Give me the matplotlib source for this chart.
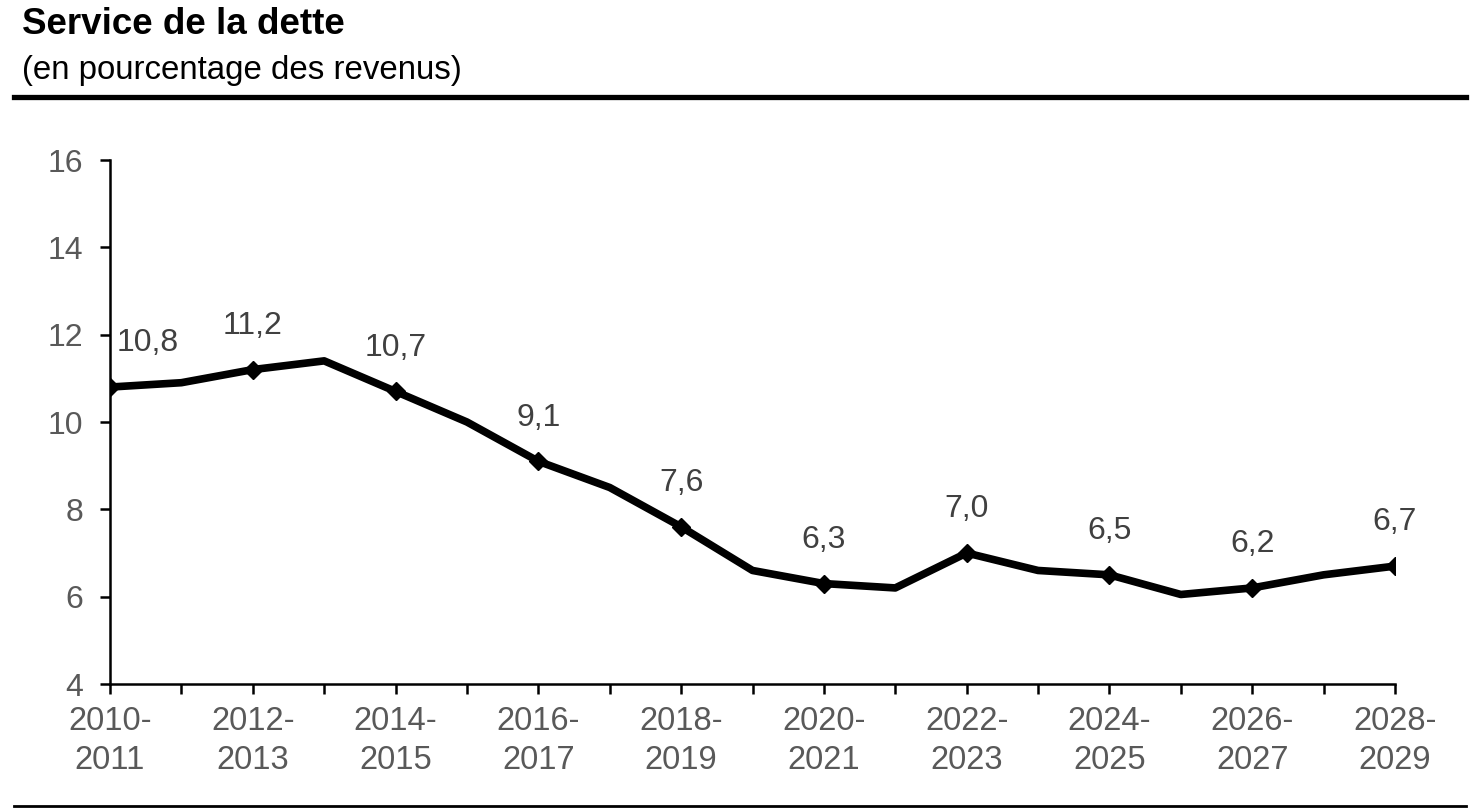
import matplotlib
matplotlib.use("Agg")
import matplotlib.pyplot as plt
from matplotlib.lines import Line2D

plt.rcParams["font.family"] = ["Liberation Sans", "DejaVu Sans"]

# -----------------------------
# Data
# -----------------------------
years = ["2010-\n2011", "2011-\n2012", "2012-\n2013", "2013-\n2014", "2014-\n2015",
         "2015-\n2016", "2016-\n2017", "2017-\n2018", "2018-\n2019", "2019-\n2020",
         "2020-\n2021", "2021-\n2022", "2022-\n2023", "2023-\n2024", "2024-\n2025",
         "2025-\n2026", "2026-\n2027", "2027-\n2028", "2028-\n2029"]
debt_service = [10.8, 10.9, 11.2, 11.4, 10.7, 10.0, 9.1, 8.5, 7.6, 6.6,
                6.3, 6.2, 7.0, 6.6, 6.5, 6.05, 6.2, 6.5, 6.7]
labelled = [0, 2, 4, 6, 8, 10, 12, 14, 16, 18]
label_text = ["10,8", "11,2", "10,7", "9,1", "7,6", "6,3", "7,0", "6,5", "6,2", "6,7"]
y_ticks = [4, 6, 8, 10, 12, 14, 16]

# -----------------------------
# Figure
# -----------------------------
fig = plt.figure(figsize=(14.8, 8.1), dpi=100)
ax = fig.add_axes([110 / 1480, 1 - 684 / 810, (1395 - 110) / 1480, (684 - 160) / 810])

x = list(range(len(years)))
ax.plot(x, debt_service, color="black", lw=5.5, solid_joinstyle="round", zorder=3)
ax.plot([x[i] for i in labelled], [debt_service[i] for i in labelled],
        ls="none", marker="D", ms=9, color="black", zorder=4)

for i, txt in zip(labelled, label_text):
    dx = 27 if i == 0 else 0
    ax.annotate(txt, (x[i], debt_service[i]), xytext=(dx, 31.5),
                textcoords="offset points", ha="center", va="center",
                fontsize=23, color="#404040")

ax.set_xlim(0, 18)
ax.set_ylim(4, 16)
ax.set_yticks(y_ticks)
ax.set_xticks(x)
ax.set_xticklabels([lab if i % 2 == 0 else "" for i, lab in enumerate(years)])
ax.tick_params(axis="both", direction="out", length=7, width=1.8,
               labelsize=23, labelcolor="#595959", color="black")
ax.tick_params(axis="x", pad=8.5, labelsize=23.5)
ax.tick_params(axis="y", pad=12)
for lab in ax.get_xticklabels():
    lab.set_linespacing(1.36)

for s in ["top", "right"]:
    ax.spines[s].set_visible(False)
for s in ["left", "bottom"]:
    ax.spines[s].set_linewidth(1.8)

# titles and rules
fig.text(22 / 1480, 1 - 25 / 810, "Service de la dette", fontsize=26.5,
         fontweight="bold", va="center", ha="left")
fig.text(22 / 1480, 1 - 70 / 810, "(en pourcentage des revenus)", fontsize=23.8,
         va="center", ha="left")
fig.add_artist(Line2D([14 / 1480, 1466 / 1480], [1 - 97 / 810] * 2,
                      color="black", lw=3.8, transform=fig.transFigure))
fig.add_artist(Line2D([14 / 1480, 1466 / 1480], [1 - 806 / 810] * 2,
                      color="black", lw=2, transform=fig.transFigure))

fig.savefig("out.png", dpi=100)
